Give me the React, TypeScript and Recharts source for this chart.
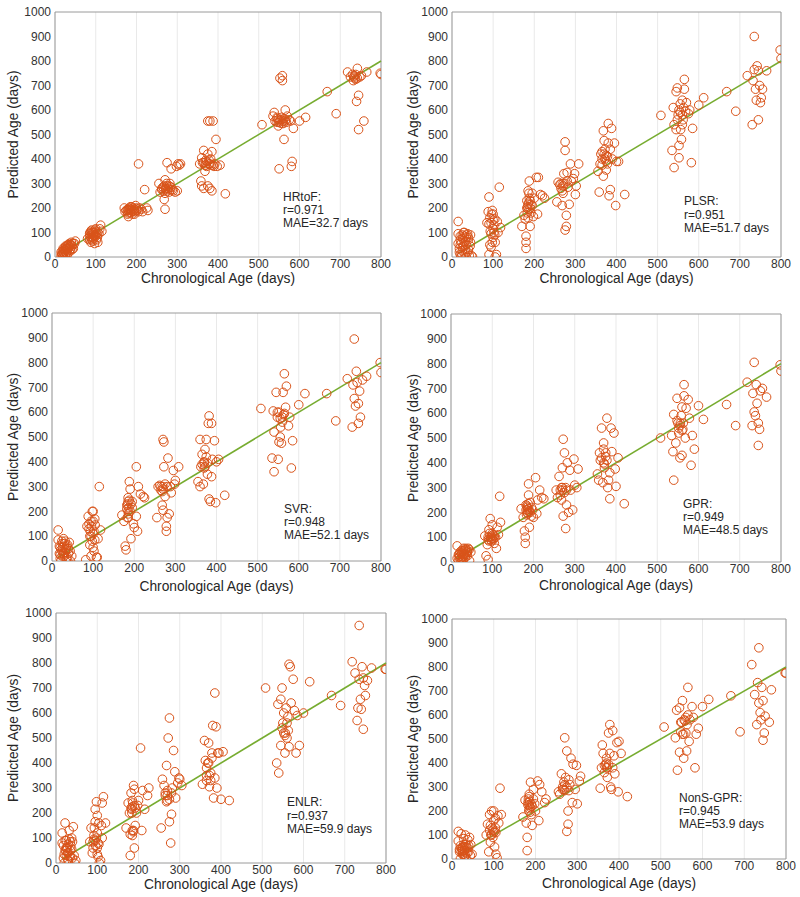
import React from 'react';
import { ScatterChart, Scatter, XAxis, YAxis, CartesianGrid, ReferenceLine, ReferenceArea } from 'recharts';

type P = [number, number];

const xTicks = [0, 100, 200, 300, 400, 500, 600, 700, 800];
const yTicks = [0, 100, 200, 300, 400, 500, 600, 700, 800, 900, 1000];
const xTitle = 'Chronological Age (days)';
const yTitle = 'Predicted Age (days)';
const fitLine = [{ x: 15, y: 15 }, { x: 800, y: 800 }];

const hrtofPoints: P[] = [
  [15,5],[18,10],[20,0],[20,20],[22,15],[25,30],[25,40],[28,35],[30,25],[30,45],[32,50],[35,40],[35,55],[38,30],[40,50],[42,45],[45,35],[48,55],[50,65],[20,35],[15,20],[25,5],[30,10],[35,20],[40,60],
  [18,25],[22,30],[26,45],[28,15],[33,35],[36,45],[38,50],[42,30],[45,55],[20,10],[24,22],[30,35],[16,12],
  [80,75],[85,70],[85,85],[88,60],[90,95],[90,110],[92,80],[95,100],[95,75],[98,90],[100,105],[100,85],[102,70],[105,60],[105,100],[108,95],[110,115],[112,130],[115,105],[88,105],[93,65],[97,55],[100,115],
  [85,95],[88,80],[92,100],[96,85],[98,110],[102,95],[94,90],[90,70],[104,80],[86,100],
  [170,200],[172,185],[175,190],[178,175],[180,165],[182,195],[185,180],[185,205],[188,190],[190,185],[192,200],[195,175],[195,195],[198,210],[200,190],[205,185],[208,200],[212,195],[215,185],[225,200],[228,190],[205,380],[220,275],[180,190],
  [180,180],[183,200],[186,195],[190,175],[193,190],[196,185],[188,205],[178,195],[200,200],[202,195],
  [255,300],[258,265],[262,280],[265,285],[268,235],[270,195],[270,315],[272,275],[275,290],[275,385],[278,280],[280,265],[282,300],[285,360],[288,275],[290,270],[295,265],[298,370],[300,270],[302,380],[305,375],[308,380],[262,275],[270,260],[285,285],
  [268,290],[272,280],[276,270],[280,290],[284,275],[266,270],[274,300],
  [355,380],[358,310],[360,290],[360,405],[362,385],[365,280],[365,435],[368,350],[370,395],[372,370],[375,555],[375,420],[375,290],[378,380],[380,555],[380,380],[382,400],[385,270],[385,430],[388,555],[390,370],[392,380],[395,480],[398,370],[405,375],[418,258],[380,280],[370,375],
  [365,385],[372,390],[378,395],[383,375],[368,375],[388,375],
  [508,540],[535,575],[538,590],[540,555],[545,565],[548,535],[550,360],[550,550],[552,730],[555,560],[558,740],[558,720],[560,545],[562,565],[562,480],[565,555],[565,600],[568,550],[570,575],[575,560],[578,555],[580,370],[582,390],[585,525],[600,555],[615,570],[545,570],[555,545],
  [548,560],[552,555],[556,570],[560,555],[545,550],[566,560],
  [668,675],[690,585],[718,755],[725,735],[730,745],[732,720],[735,740],[738,725],[740,635],[742,770],[745,660],[745,520],[748,735],[752,740],[758,555],[765,755],[798,750],[800,745],
  [733,735],[738,745],[742,730],[736,730],
];

const plsrPoints: P[] = [
  [15,145],[15,95],[15,55],[18,20],[20,10],[20,70],[22,0],[25,90],[25,40],[28,100],[30,60],[30,85],[32,10],[35,80],[35,50],[38,95],[40,70],[40,30],[42,5],[45,90],[45,60],[48,5],[50,0],[25,25],[35,0],[20,50],
  [20,85],[22,60],[26,75],[28,45],[30,100],[33,65],[36,90],[38,20],[40,80],[44,45],[18,35],[24,10],[32,30],
  [85,140],[88,185],[90,10],[90,245],[92,50],[95,140],[95,95],[98,190],[100,80],[100,175],[102,100],[104,155],[105,0],[105,60],[108,10],[110,145],[112,100],[115,285],[118,120],[95,40],[100,115],
  [90,135],[93,105],[96,175],[98,60],[102,130],[104,90],[92,160],[100,150],
  [170,125],[175,170],[178,155],[180,85],[180,35],[180,60],[182,200],[185,215],[185,270],[188,310],[190,230],[190,125],[192,180],[195,260],[198,165],[200,240],[205,325],[208,175],[210,325],[215,255],[220,250],[225,240],[185,195],[195,210],
  [182,230],[184,205],[186,220],[188,240],[183,180],[187,260],[190,200],[185,160],[192,215],
  [255,225],[258,305],[262,295],[265,280],[268,210],[270,260],[272,340],[275,470],[275,435],[275,110],[278,170],[278,125],[280,345],[282,285],[285,215],[288,380],[290,310],[295,320],[298,340],[300,255],[302,290],[308,380],[270,300],
  [265,300],[270,290],[275,300],[280,310],[268,270],
  [355,350],[358,265],[360,380],[362,420],[365,430],[368,515],[368,330],[370,475],[372,400],[375,390],[378,410],[380,465],[380,545],[382,250],[385,275],[385,440],[388,525],[390,400],[395,465],[398,210],[400,390],[405,390],[420,255],[365,375],[375,355],
  [365,400],[370,420],[375,415],[378,380],[372,440],
  [508,578],[535,435],[538,610],[540,365],[540,540],[545,675],[545,520],[548,690],[550,580],[552,405],[552,455],[555,625],[558,480],[560,540],[560,640],[562,560],[565,725],[565,685],[568,595],[570,630],[575,585],[578,600],[582,385],[585,525],[600,620],[612,650],[555,590],
  [548,560],[552,600],[556,520],[560,580],[563,610],
  [668,675],[690,595],[718,740],[730,540],[732,720],[735,900],[735,765],[738,685],[740,640],[742,780],[745,760],[745,560],[748,700],[750,630],[752,650],[755,685],[765,760],[798,845],[800,810],
];

const svrPoints: P[] = [
  [15,125],[15,85],[18,30],[20,10],[20,55],[22,0],[25,70],[25,40],[28,90],[30,60],[30,20],[32,80],[35,50],[35,10],[38,65],[40,30],[42,75],[45,0],[48,20],[25,20],
  [18,60],[22,45],[26,55],[28,30],[30,70],[33,45],[36,60],[38,15],[40,50],[44,40],[20,25],[24,80],[32,35],
  [82,5],[85,140],[88,180],[90,130],[92,65],[95,20],[95,160],[98,200],[100,200],[100,110],[102,40],[104,85],[105,145],[108,15],[110,15],[112,90],[115,300],[118,125],[100,55],[95,100],
  [90,150],[93,120],[96,140],[98,80],[102,120],[104,170],[92,100],[100,160],
  [170,185],[175,160],[178,60],[180,45],[182,225],[185,200],[185,255],[188,320],[190,290],[192,90],[195,240],[198,150],[200,135],[205,380],[208,120],[210,300],[205,180],[215,270],[222,260],[225,255],[185,175],[195,215],
  [182,210],[184,230],[186,190],[188,245],[183,175],[187,215],[190,200],[185,240],[192,230],
  [255,175],[258,300],[262,305],[265,285],[268,225],[270,490],[270,205],[272,480],[272,380],[275,260],[278,140],[278,120],[280,175],[282,415],[285,190],[288,300],[290,275],[295,365],[298,310],[300,325],[308,380],[270,300],
  [265,300],[270,290],[275,310],[280,300],[268,280],
  [355,320],[360,490],[360,300],[362,380],[365,430],[368,310],[370,395],[372,450],[375,490],[378,350],[380,555],[382,585],[382,250],[385,240],[388,555],[388,340],[390,410],[395,485],[398,235],[400,400],[405,410],[420,265],[370,375],
  [365,390],[370,400],[375,420],[378,395],[372,380],
  [508,615],[535,415],[538,605],[540,360],[540,520],[545,680],[548,600],[550,410],[552,480],[555,500],[558,475],[560,560],[562,680],[565,755],[565,595],[568,620],[570,705],[575,545],[578,580],[582,375],[585,485],[600,630],[615,675],[555,575],
  [548,580],[552,600],[556,540],[560,580],[563,590],
  [668,675],[690,565],[718,735],[730,540],[732,710],[735,895],[735,655],[738,625],[740,765],[742,720],[745,635],[745,555],[748,685],[750,580],[755,730],[765,745],[798,800],[800,760],
];

const gprPoints: P[] = [
  [15,65],[15,15],[18,5],[20,30],[22,10],[25,45],[28,20],[30,55],[32,35],[35,50],[38,40],[40,25],[42,55],[45,5],[48,40],[25,0],[30,10],[35,20],[22,40],[40,45],
  [18,30],[22,25],[26,35],[28,45],[30,30],[33,45],[36,55],[38,30],[40,40],[44,50],[20,20],[24,15],[32,25],[28,5],
  [82,105],[85,25],[88,70],[90,10],[92,130],[95,100],[95,175],[98,85],[100,115],[100,150],[102,90],[105,75],[108,100],[110,55],[112,140],[115,110],[118,265],[120,160],[90,90],[105,105],
  [90,100],[93,115],[96,90],[98,105],[102,110],[104,95],[92,85],[100,95],
  [170,215],[175,180],[178,125],[180,75],[180,100],[182,230],[185,200],[188,315],[188,270],[190,140],[192,240],[195,185],[198,210],[200,180],[205,340],[208,195],[210,250],[215,290],[220,260],[225,255],[185,210],[195,220],
  [182,210],[184,225],[186,195],[188,215],[183,190],[187,235],[190,205],[185,220],[192,200],
  [255,290],[258,260],[262,345],[265,270],[268,250],[270,380],[272,495],[272,185],[275,440],[278,135],[278,300],[280,230],[282,400],[285,200],[288,370],[290,290],[295,210],[298,415],[300,310],[305,300],[308,375],[270,290],
  [265,290],[270,300],[275,280],[280,290],[268,300],
  [355,355],[358,330],[360,440],[362,410],[365,540],[368,320],[370,480],[372,395],[375,425],[378,580],[380,300],[382,330],[385,255],[385,360],[388,540],[390,445],[395,520],[398,375],[400,305],[405,420],[420,235],[370,455],
  [365,420],[370,400],[375,440],[378,410],[372,380],
  [508,500],[535,510],[538,445],[540,330],[540,595],[545,480],[548,660],[550,560],[552,520],[555,420],[558,590],[560,625],[560,430],[562,535],[565,715],[565,670],[568,500],[570,620],[575,655],[578,580],[582,390],[585,510],[590,455],[600,630],[612,575],[555,550],
  [548,570],[552,540],[556,560],[560,530],[563,560],
  [668,635],[690,550],[718,725],[730,550],[732,680],[735,805],[735,605],[738,590],[740,715],[742,640],[745,470],[745,560],[748,535],[750,690],[755,700],[765,665],[798,795],[800,770],
];

const enlrPoints: P[] = [
  [15,120],[15,80],[18,20],[20,0],[22,50],[22,160],[25,90],[25,30],[28,65],[30,40],[30,10],[32,130],[35,85],[35,50],[38,100],[40,20],[42,145],[45,0],[48,10],[25,60],[35,25],
  [18,70],[22,90],[26,60],[28,40],[30,75],[33,30],[36,70],[38,55],[40,85],[44,30],[20,35],[24,50],[32,95],[28,15],
  [82,85],[85,140],[88,40],[90,60],[92,110],[95,165],[95,215],[98,245],[100,120],[100,190],[102,25],[104,75],[105,0],[108,10],[110,150],[112,240],[112,100],[115,265],[120,160],[95,90],[100,35],
  [90,85],[93,140],[96,70],[98,100],[102,80],[104,160],[92,95],[100,60],
  [170,140],[175,240],[178,200],[180,30],[180,115],[182,280],[185,225],[185,130],[188,310],[190,60],[190,295],[192,150],[195,200],[198,230],[200,250],[205,460],[208,130],[210,290],[215,215],[222,270],[225,300],[185,110],
  [182,220],[184,200],[186,240],[188,130],[183,215],[187,125],[190,230],[185,250],[192,220],
  [255,140],[258,335],[262,310],[265,280],[268,390],[270,250],[272,500],[275,580],[275,165],[278,80],[280,195],[282,300],[285,450],[288,365],[290,260],[295,320],[298,340],[300,335],[305,310],[270,270],
  [265,270],[270,290],[275,255],[280,280],[268,245],
  [355,315],[360,490],[362,410],[365,350],[368,400],[370,480],[372,305],[375,330],[378,440],[380,550],[382,260],[385,680],[385,340],[388,545],[390,300],[392,440],[395,440],[400,255],[405,445],[420,250],[365,330],
  [365,380],[370,400],[375,360],[378,420],[372,350],
  [508,700],[535,400],[538,635],[540,360],[545,655],[545,470],[548,700],[550,560],[552,520],[555,440],[558,620],[560,500],[562,585],[565,795],[565,465],[568,785],[570,640],[575,735],[578,610],[582,440],[585,590],[590,470],[600,600],[615,725],[555,510],
  [548,540],[552,600],[556,520],[560,560],[563,530],
  [668,670],[690,630],[718,805],[725,760],[730,570],[732,620],[735,950],[735,735],[738,655],[740,615],[742,785],[745,740],[745,535],[748,710],[750,670],[755,730],[765,780],[798,775],[800,775],
];

const nonsGprPoints: P[] = [
  [15,115],[15,75],[18,30],[20,0],[22,45],[22,105],[25,20],[28,60],[30,40],[30,10],[32,100],[35,50],[35,0],[38,80],[40,30],[42,90],[45,60],[48,20],[25,35],[30,50],
  [18,40],[22,30],[26,50],[28,20],[30,35],[33,60],[36,25],[38,45],[40,55],[44,15],[20,55],[24,45],[32,15],[28,85],
  [82,100],[85,145],[88,30],[90,185],[92,70],[95,200],[98,120],[100,110],[100,160],[102,50],[104,130],[105,20],[108,5],[110,180],[112,150],[115,295],[118,185],[95,100],[105,110],
  [90,120],[93,100],[96,130],[98,90],[102,115],[104,170],[92,140],[100,200],
  [170,175],[175,245],[178,150],[180,90],[180,35],[182,235],[185,210],[185,270],[188,320],[190,185],[192,140],[195,290],[198,230],[200,200],[205,325],[208,160],[210,310],[215,280],[222,235],[225,250],[185,225],[195,250],
  [182,225],[184,200],[186,240],[188,215],[183,250],[187,195],[190,230],[185,260],[192,220],
  [255,280],[258,270],[262,355],[265,300],[268,290],[270,505],[272,340],[275,450],[275,115],[278,145],[278,200],[280,330],[282,310],[285,420],[288,235],[290,395],[295,290],[298,390],[300,230],[305,325],[308,345],[270,285],
  [265,290],[270,310],[275,300],[280,285],[268,320],
  [355,295],[358,380],[360,475],[362,440],[365,360],[368,395],[370,400],[372,340],[375,525],[378,560],[380,300],[382,290],[385,535],[385,380],[388,430],[390,355],[395,485],[398,280],[400,490],[405,440],[420,260],[370,380],
  [365,390],[370,420],[375,395],[378,440],[372,380],
  [508,550],[535,505],[538,620],[540,370],[545,445],[545,630],[548,530],[550,570],[552,660],[555,420],[558,575],[560,525],[562,450],[565,715],[565,600],[568,490],[570,580],[575,635],[578,590],[582,380],[585,520],[590,545],[600,635],[615,665],[555,520],
  [548,570],[552,520],[556,580],[560,590],[563,560],
  [668,680],[690,530],[718,810],[725,685],[730,560],[732,735],[735,880],[735,650],[738,610],[740,580],[742,715],[745,660],[745,495],[748,525],[750,595],[760,570],[765,705],[798,775],[800,775],
];

const panelNames = ['HRtoF:', 'PLSR:', 'SVR:', 'GPR:', 'ENLR:', 'NonS-GPR:'];
const panelR = ['r=0.971', 'r=0.951', 'r=0.948', 'r=0.949', 'r=0.937', 'r=0.945'];
const panelMAE = ['MAE=32.7 days', 'MAE=51.7 days', 'MAE=52.1 days', 'MAE=48.5 days', 'MAE=59.9 days', 'MAE=53.9 days'];
const panelPoints: P[][] = [hrtofPoints, plsrPoints, svrPoints, gprPoints, enlrPoints, nonsGprPoints];

// layout per panel (pixels)
const layouts = [
  { left: 0, top: 0, w: 400, h: 290, yw: 55, mr: 19, mt: 12, xh: 33, xtb: 283, ax: 283, ay: [201, 214, 227] },
  { left: 400, top: 0, w: 400, h: 290, yw: 52, mr: 19, mt: 12, xh: 33, xtb: 283, ax: 284, ay: [205, 219, 232] },
  { left: 0, top: 300, w: 400, h: 295, yw: 52, mr: 19, mt: 13, xh: 34, xtb: 291, ax: 284, ay: [213, 226, 239] },
  { left: 400, top: 300, w: 400, h: 295, yw: 51, mr: 19, mt: 14, xh: 33, xtb: 290, ax: 283, ay: [208, 221, 234] },
  { left: 0, top: 600, w: 400, h: 297, yw: 56, mr: 14, mt: 13, xh: 34, xtb: 289, ax: 287, ay: [206, 220, 233] },
  { left: 400, top: 600, w: 400, h: 297, yw: 52, mr: 14, mt: 19, xh: 38, xtb: 288, ax: 279, ay: [202, 215, 228] },
];

const FONT = '"Liberation Sans", Arial, Helvetica, sans-serif';
const MARKER = '#D95319';
const GREEN = '#77AC30';

const Ring = (props: any) => {
  const { cx, cy } = props;
  if (cx == null || cy == null) return <g />;
  return <circle cx={cx} cy={cy} r={4.3} fill="none" stroke={MARKER} strokeWidth={1} />;
};

function Panel({ idx }: { idx: number }) {
  const L = layouts[idx];
  const data = panelPoints[idx].map(([x, y]) => ({ x, y }));
  const plotTop = L.mt;
  const plotBottom = L.h - L.xh;
  const plotCy = (plotTop + plotBottom) / 2;
  const plotCx = L.yw + (L.w - L.yw - L.mr) / 2;
  const texts = () => (
    <g fontFamily={FONT}>
      <text x={13} y={plotCy} transform={`rotate(-90 13 ${plotCy})`} textAnchor="middle" dominantBaseline="central" fontSize={13.8} fill="#262626">{yTitle}</text>
      <text x={plotCx} y={L.xtb} textAnchor="middle" fontSize={13.8} fill="#262626">{xTitle}</text>
      <text x={L.ax} y={L.ay[0]} fontSize={12} fill="#262626">{panelNames[idx]}</text>
      <text x={L.ax} y={L.ay[1]} fontSize={12} fill="#262626">{panelR[idx]}</text>
      <text x={L.ax} y={L.ay[2]} fontSize={12} fill="#262626">{panelMAE[idx]}</text>
    </g>
  );
  return (
    <div style={{ position: 'absolute', left: L.left, top: L.top, width: L.w, height: L.h }}>
      <ScatterChart width={L.w} height={L.h} margin={{ top: L.mt, right: L.mr, left: 0, bottom: 0 }}>
        <CartesianGrid horizontal={false} stroke="#e9e9e9" strokeWidth={1} />
        <XAxis
          type="number"
          dataKey="x"
          domain={[0, 800]}
          ticks={xTicks}
          interval={0}
          height={L.xh}
          tickSize={0}
          tickMargin={2}
          axisLine={false}
          tickLine={false}
          tick={{ fontSize: 12, fill: '#333', fontFamily: FONT }}
          allowDataOverflow
        />
        <YAxis
          type="number"
          dataKey="y"
          domain={[0, 1000]}
          ticks={yTicks}
          interval={0}
          width={L.yw}
          tickSize={0}
          tickMargin={4}
          axisLine={false}
          tickLine={false}
          tick={{ fontSize: 12, fill: '#333', fontFamily: FONT }}
          allowDataOverflow
          label={texts}
        />
        <ReferenceArea x1={0} x2={800} y1={0} y2={1000} fill="none" fillOpacity={0} stroke="#9a9a9a" strokeWidth={1} />
        <Scatter data={data} shape={Ring} isAnimationActive={false} />
        <ReferenceLine segment={fitLine} stroke={GREEN} strokeWidth={1.6} />
      </ScatterChart>
    </div>
  );
}

export default function App() {
  return (
    <div style={{ position: 'absolute', left: 0, top: 0, width: 800, height: 897, background: '#fff', overflow: 'hidden' }}>
      {[0, 1, 2, 3, 4, 5].map((i) => (
        <Panel key={i} idx={i} />
      ))}
    </div>
  );
}
